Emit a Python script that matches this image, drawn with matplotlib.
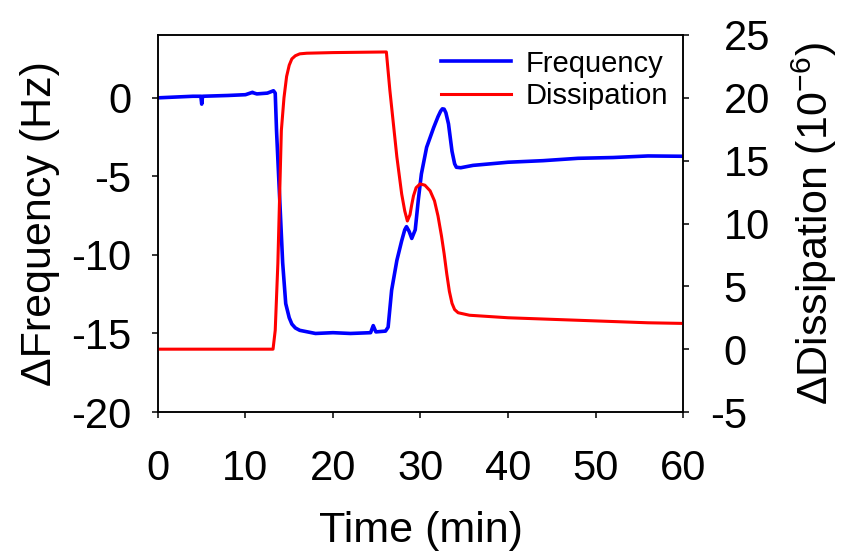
import matplotlib
matplotlib.use("Agg")
import matplotlib.pyplot as plt
import matplotlib.transforms as mtransforms

plt.rcParams['font.family'] = ['Liberation Sans', 'DejaVu Sans']
plt.rcParams['mathtext.fontset'] = 'custom'
plt.rcParams['mathtext.rm'] = 'Liberation Sans'
plt.rcParams['mathtext.it'] = 'Liberation Sans:italic'

# ---- data ----
freq_time = [0, 2, 4, 4.9, 5.0, 5.1, 8, 10, 10.8, 11.0, 11.3, 12.5, 13.2, 13.4,
             13.55, 13.9, 14.25, 14.6, 15.0, 15.3, 15.7, 16.2, 18, 20, 22, 24.3,
             24.6, 24.9, 26.0, 26.3, 26.7, 27.3, 27.85, 28.2, 28.4, 28.7, 29.0,
             29.4, 29.75, 30.1, 30.7, 31.5, 32.0, 32.3, 32.5, 32.7, 32.9, 33.2,
             33.6, 33.9, 34.1, 34.6, 36, 40, 44, 48, 52, 56, 60]
freq_hz = [0.0, 0.05, 0.1, 0.1, -0.4, 0.1, 0.15, 0.2, 0.35, 0.3, 0.25, 0.3, 0.45,
           0.3, -2.1, -6.3, -10.5, -13.1, -14.0, -14.4, -14.65, -14.8, -15.0,
           -14.95, -15.0, -14.95, -14.5, -14.9, -14.85, -14.6, -12.25, -10.35,
           -9.1, -8.4, -8.2, -8.5, -8.95, -8.4, -6.5, -4.85, -3.15, -1.9, -1.2,
           -0.85, -0.7, -0.72, -0.95, -1.66, -3.4, -4.2, -4.42, -4.45, -4.3, -4.1,
           -4.0, -3.85, -3.8, -3.7, -3.72]

diss_time = [0, 13.15, 13.4, 13.7, 13.9, 14.1, 14.4, 14.7, 15.0, 15.3, 15.7, 16.2,
             17, 20, 26.1, 26.5, 27.3, 27.85, 28.2, 28.5, 28.8, 29.0, 29.2, 29.5,
             29.95, 30.5, 31.1, 31.6, 32.0, 32.4, 32.7, 33.0, 33.3, 33.6, 33.9,
             34.3, 35.6, 40, 48, 56, 60]
diss_1e6 = [0.0, 0.0, 1.5, 6.8, 12.1, 17.4, 20.0, 21.7, 22.6, 23.1, 23.35, 23.5,
            23.55, 23.6, 23.65, 20.6, 15.3, 12.35, 11.0, 10.2, 10.7, 11.5, 12.2,
            12.85, 13.15, 13.05, 12.6, 11.8, 10.6, 9.0, 7.6, 6.0, 4.6, 3.65, 3.15,
            2.9, 2.7, 2.5, 2.3, 2.1, 2.05]

x_ticks = [0, 10, 20, 30, 40, 50, 60]
freq_ticks = [-20, -15, -10, -5, 0]
diss_ticks = [-5, 0, 5, 10, 15, 20, 25]

fig = plt.figure(figsize=(8.42, 5.52), dpi=100)
fig.subplots_adjust(left=0.1876, right=0.8112, bottom=0.2536, top=0.9366)
ax = fig.add_subplot(111)
ax2 = ax.twinx()

l1, = ax.plot(freq_time, freq_hz, color='#0000ff', lw=2.6, label='Frequency',
              solid_joinstyle='round')
l2, = ax2.plot(diss_time, diss_1e6, color='#ff0000', lw=2.2, label='Dissipation',
               solid_joinstyle='round')

ax.set_xlim(0, 60)
ax.set_ylim(-20, 4)
ax2.set_ylim(-5, 25)
ax.set_xticks(x_ticks)
ax.set_yticks(freq_ticks)
ax2.set_yticks(diss_ticks)
ax.set_xticklabels([str(v) for v in x_ticks])
ax.set_yticklabels([str(v) for v in freq_ticks])
ax2.set_yticklabels([str(v) for v in diss_ticks])

for a in (ax, ax2):
    for s in a.spines.values():
        s.set_linewidth(1.1)

ax.tick_params(axis='x', direction='out', length=4.3, width=1.1, labelsize=30, pad=22, top=False)
ax.tick_params(axis='y', direction='out', length=4.3, width=1.1, labelsize=30, pad=15, right=False)
ax2.tick_params(axis='y', direction='out', length=4.3, width=1.1, labelsize=30, pad=25)

ax.set_xlabel('Time (min)', fontsize=31, labelpad=16)
ax.set_ylabel('\u0394Frequency (Hz)', fontsize=31, labelpad=8)
ax2.set_ylabel('\u0394Dissipation (10$^{\\mathregular{-6}}$)', fontsize=31, labelpad=14)

# hanging minus sign on the right-axis labels
for lab in ax2.get_yticklabels():
    if lab.get_text().startswith('-'):
        lab.set_transform(lab.get_transform() +
                          mtransforms.ScaledTranslation(-10 / 72, 0, fig.dpi_scale_trans))

ax2.legend([l1, l2], ['Frequency', 'Dissipation'], loc='upper right', frameon=False,
           fontsize=21, handlelength=2.4, handletextpad=0.5, labelspacing=0.15,
           borderaxespad=0.2, borderpad=0.3)

fig.savefig('out.png', dpi=100)
